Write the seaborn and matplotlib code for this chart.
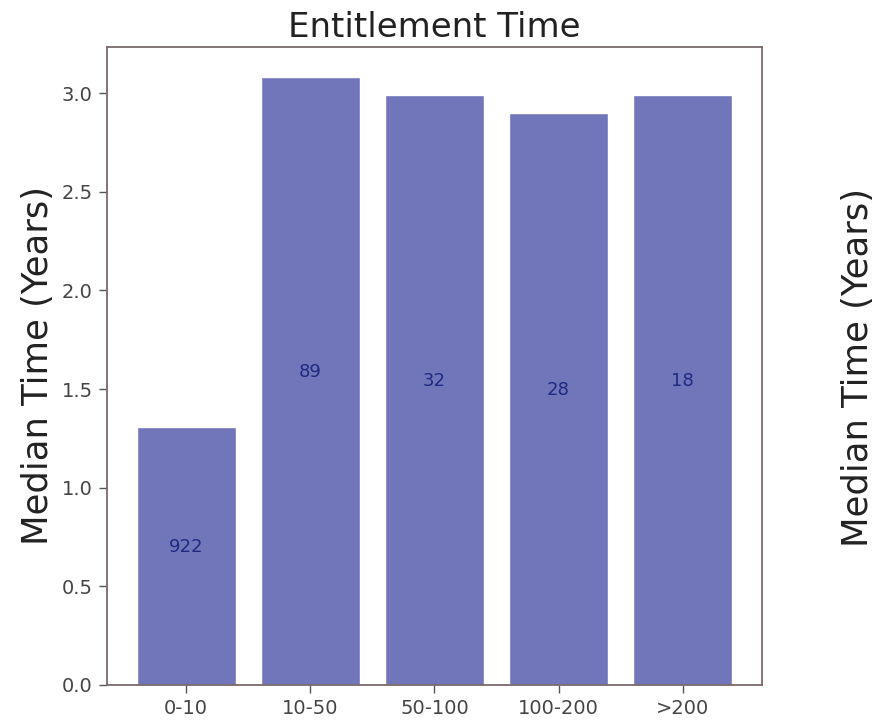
import matplotlib
matplotlib.use("Agg")
import matplotlib.pyplot as plt
import seaborn as sns
import pandas as pd

categories = ["0-10", "10-50", "50-100", "100-200", ">200"]
median_years = [1.31, 3.08, 2.99, 2.90, 2.99]
counts = [922, 89, 32, 28, 18]

sns.set_style("white")
plt.rcParams['font.family'] = ['DejaVu Sans']

df = pd.DataFrame({"size": categories, "years": median_years})

fig = plt.figure(figsize=(8.75, 7.23), dpi=100)
ax = fig.add_axes([0.122, 0.0526, 0.749, 0.8824])

sns.barplot(data=df, x="size", y="years", color="#7176bb", saturation=1,
            width=0.8, ax=ax, order=categories)

for i, (h, c) in enumerate(zip(median_years, counts)):
    ax.text(i, h / 2, str(c), ha="center", va="bottom", color="#1f2a80",
            fontsize=13, family=['Liberation Sans Narrow', 'DejaVu Sans'])

ax.set_xlim(-0.64, 4.64)
ax.set_ylim(0, 3.234)
ax.set_yticks([0.0, 0.5, 1.0, 1.5, 2.0, 2.5, 3.0])
ax.set_yticklabels(["0.0", "0.5", "1.0", "1.5", "2.0", "2.5", "3.0"])
ax.tick_params(axis="both", labelsize=14, colors="#555555", length=6,
               width=1, direction="out", left=True, bottom=True, pad=4)
ax.tick_params(axis="both", labelcolor="#444444")
for s in ax.spines.values():
    s.set_color("#7a6a6a")
    s.set_linewidth(1.3)

ax.set_xlabel("")
ax.set_ylabel("Median Time (Years)", fontsize=25.5, color="#222222", labelpad=5)
ax.set_title("Entitlement Time", fontsize=24.5, color="#222222", pad=7)

fig.text(0.981, 0.492, "Median Time (Years)", rotation=90, fontsize=25.5,
         color="#222222", ha="center", va="center")

fig.savefig("out.png", dpi=100, facecolor="white")
